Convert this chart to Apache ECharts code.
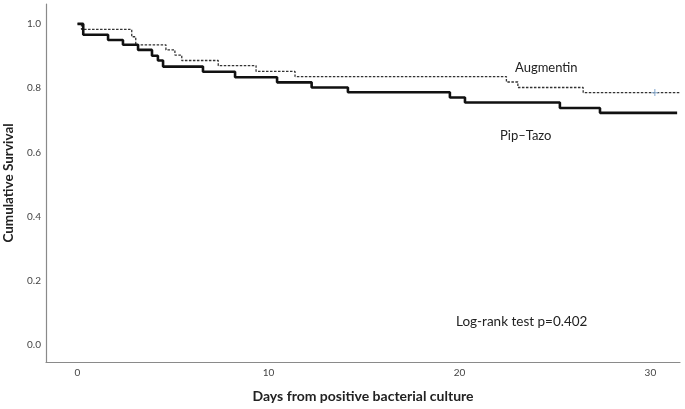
<!DOCTYPE html>
<html>
<head>
<meta charset="utf-8">
<script src="https://cdn.jsdelivr.net/npm/echarts@6/dist/echarts.min.js"></script>
<style>html,body{margin:0;padding:0;background:#fff;}#c{width:685px;height:409px;}</style>
</head>
<body>
<div id="c"></div>
<script>
// Pip-Tazo (solid): event times (days) and survival after each event
const pipTimes = [0, 0.30, 1.60, 2.38, 3.17, 3.90, 4.21, 4.48, 6.57, 8.25, 10.45, 12.26, 14.16, 19.50, 20.29, 25.26, 27.36, 31.40];
const pipSurv  = [1.0, 0.966, 0.950, 0.935, 0.919, 0.901, 0.886, 0.867, 0.851, 0.834, 0.818, 0.802, 0.787, 0.771, 0.755, 0.738, 0.723, 0.723];
// Augmentin (dashed)
const augTimes = [0, 0.21, 2.84, 3.05, 4.63, 5.10, 5.46, 7.37, 9.35, 11.39, 22.46, 23.06, 26.48, 31.54];
const augSurv  = [1.0, 0.983, 0.960, 0.935, 0.919, 0.903, 0.886, 0.870, 0.852, 0.836, 0.819, 0.802, 0.786, 0.786];
// Censored observation (Augmentin)
const augCensor = [[30.23, 0.786]];
const xTicks = [0, 10, 20, 30];
const yTicks = [0.0, 0.2, 0.4, 0.6, 0.8, 1.0];

const pipData = pipTimes.map((t, i) => [t, pipSurv[i]]);
const augData = augTimes.map((t, i) => [t, augSurv[i]]);

const chart = echarts.init(document.getElementById('c'));
chart.setOption({
  animation: false,
  backgroundColor: '#fff',
  grid: {left: 46, right: 5, top: 4, bottom: 47, outerBoundsMode: 'none', containLabel: false},
  xAxis: {
    type: 'value', min: -1.65, max: 31.55,
    axisLine: {show: true, onZero: false, lineStyle: {color: '#8a8a8a', width: 1.2}},
    axisTick: {show: false},
    splitLine: {show: false},
    axisLabel: {customValues: xTicks, formatter: v => String(v), color: '#444', fontSize: 10, fontFamily: 'Lato', margin: 6},
    name: 'Days from positive bacterial culture',
    nameLocation: 'middle', nameGap: 27,
    nameTextStyle: {fontFamily: 'Lato', fontWeight: 'bold', fontSize: 14, color: '#222'}
  },
  yAxis: {
    type: 'value', min: -0.053, max: 1.062,
    axisLine: {show: true, onZero: false, lineStyle: {color: '#8a8a8a', width: 1.2}},
    axisTick: {show: false},
    splitLine: {show: false},
    axisLabel: {customValues: yTicks, formatter: v => v.toFixed(1), color: '#444', fontSize: 10, fontFamily: 'Lato', margin: 5},
    name: 'Cumulative Survival',
    nameLocation: 'middle', nameGap: 27,
    nameTextStyle: {fontFamily: 'Lato', fontWeight: 'bold', fontSize: 13.5, color: '#222'}
  },
  series: [
    {
      name: 'Augmentin', type: 'line', step: 'end', data: augData, symbol: 'none',
      lineStyle: {color: '#333', width: 1.3, type: [2.5, 1.5]}, z: 2
    },
    {
      name: 'Pip-Tazo', type: 'line', step: 'end', data: pipData, symbol: 'none',
      lineStyle: {color: '#111', width: 2.6}, z: 3
    },
    {
      name: 'Censored', type: 'scatter', data: augCensor,
      symbol: 'path://M4,0H6V4H10V6H6V10H4V6H0V4H4Z', symbolSize: [7, 7], symbolKeepAspect: true,
      itemStyle: {color: '#8fb0d3'}, z: 4
    }
  ],
  graphic: [
    {type: 'text', left: 515, top: 61, style: {text: 'Augmentin', fontSize: 13, fontFamily: 'Lato', fill: '#222'}},
    {type: 'text', left: 500, top: 129, style: {text: 'Pip–Tazo', fontSize: 13, fontFamily: 'Lato', fill: '#222'}},
    {type: 'text', left: 456, top: 315, style: {text: 'Log-rank test p=0.402', fontSize: 13.5, fontFamily: 'Lato', fill: '#222'}}
  ]
});
</script>
</body>
</html>
